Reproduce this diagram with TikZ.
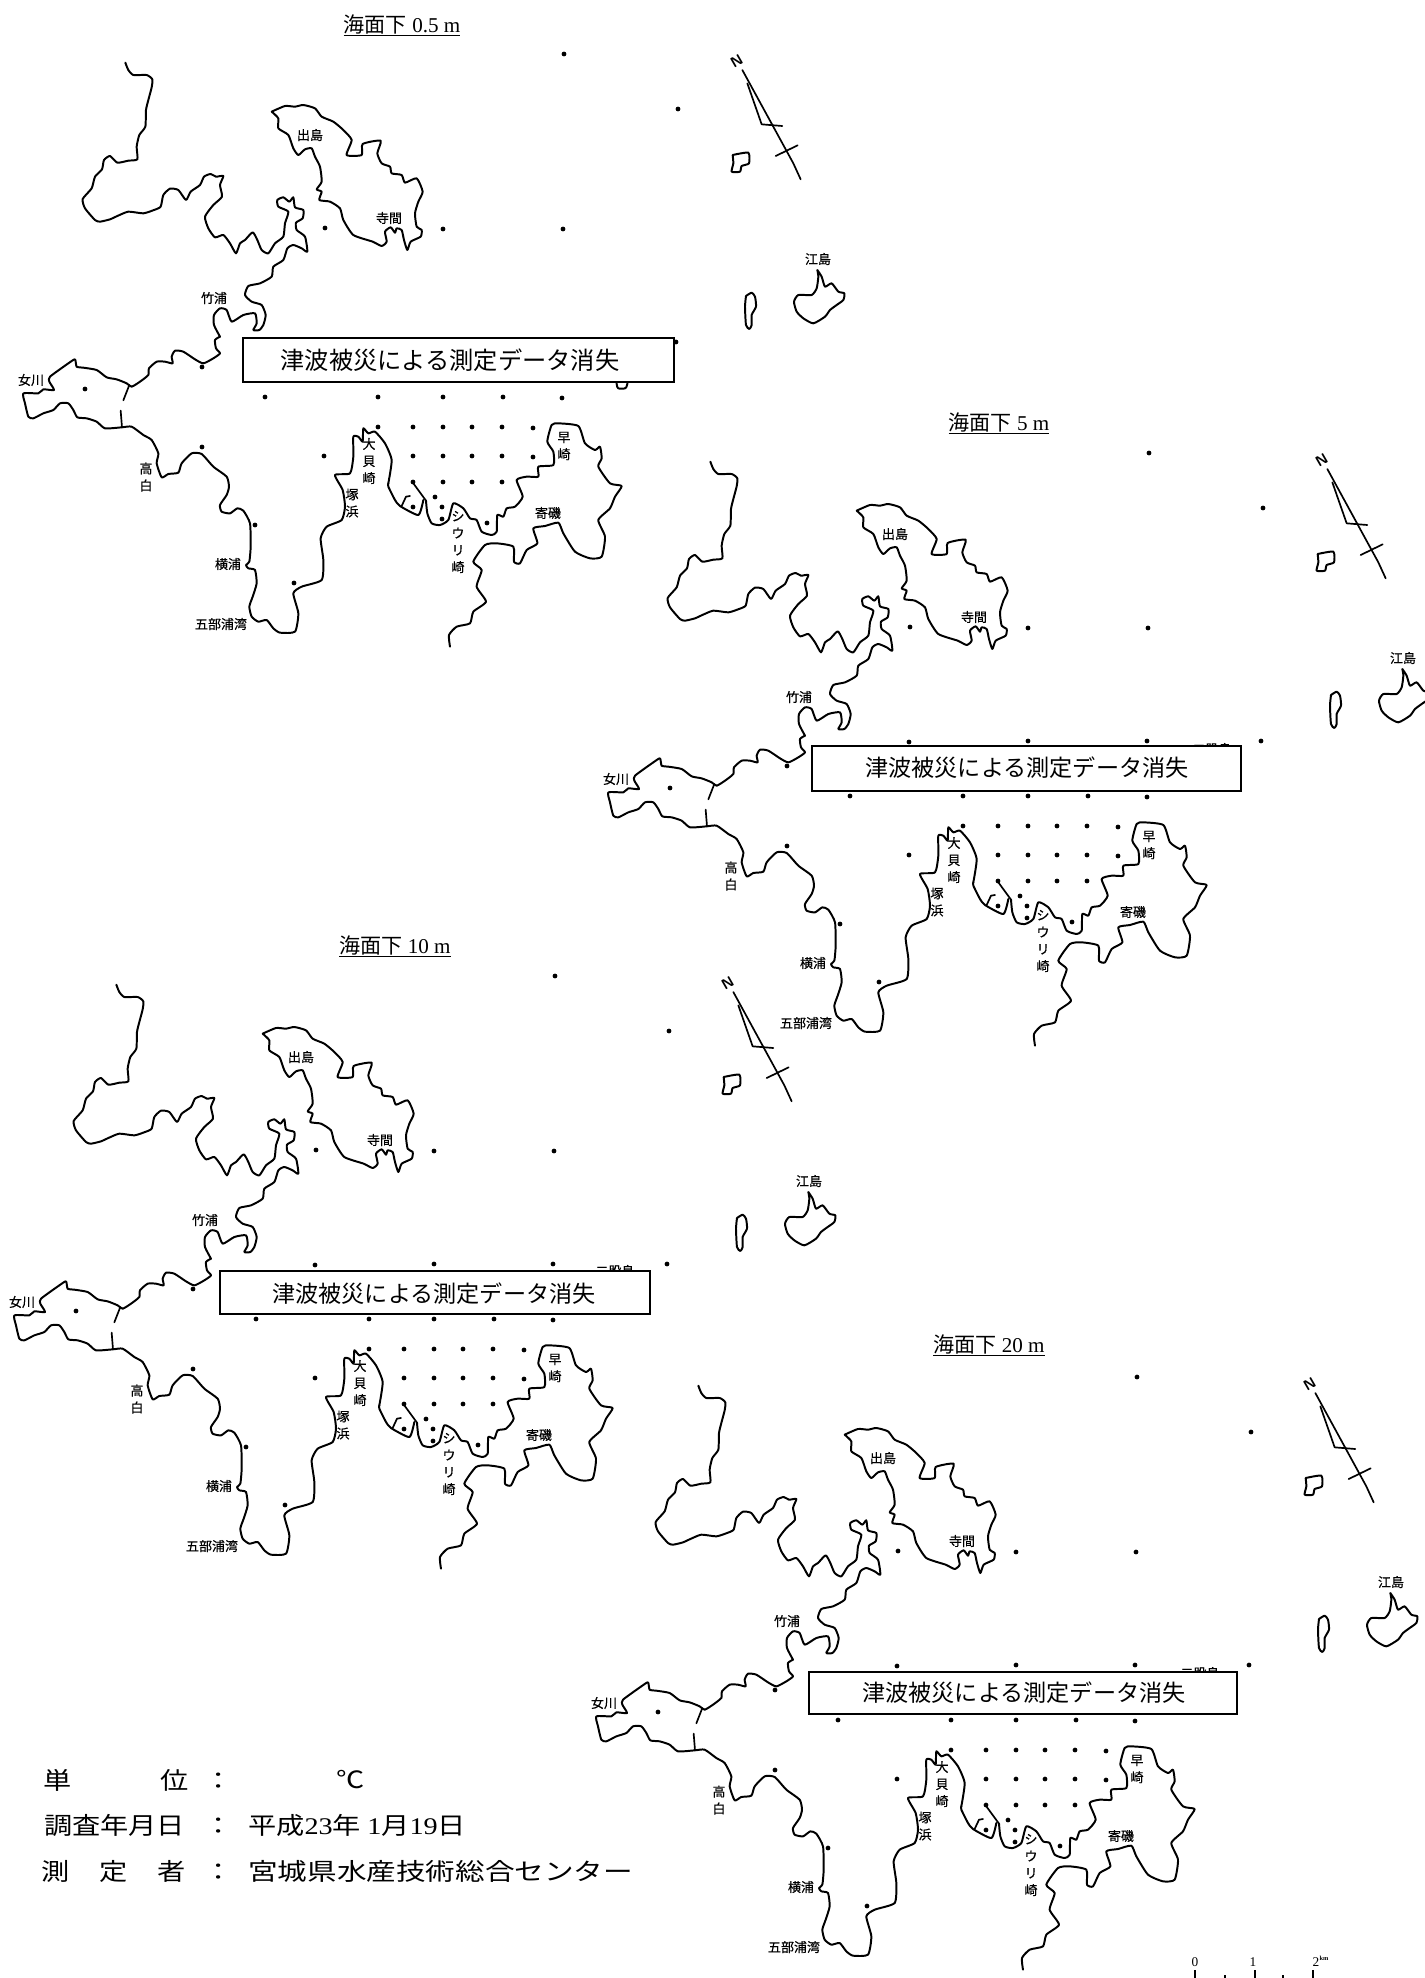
\documentclass[tikz,border=0pt]{standalone}
\usepackage{fontspec}
\setmainfont{Liberation Serif}
\newfontfamily\cjk{Noto Sans CJK JP}
\newfontfamily\cjkm[FakeBold=0.4]{Noto Sans CJK JP}
\newcommand{\fs}[1]{\fontsize{#1}{#1}\selectfont}
\tikzset{
  coast/.style={draw=black,line width=2.8pt,line join=round,line cap=round,smooth,tension=0.35},
  thinline/.style={draw=black,line width=2.4pt,line cap=round,line join=round},
  lab/.style={inner sep=0pt,font=\fs{18.5}\cjkm,align=center,text=black},
  vlab/.style={lab,font=\fontsize{18.5}{24.2}\selectfont\cjkm},
  banner/.style={draw=black,fill=white,line width=2.4pt},
  bannertext/.style={inner sep=0pt,font=\fs{32.9}\cjk},
  titletext/.style={inner sep=0pt,font=\fs{30}},
  foot/.style={inner sep=0pt,font=\fs{34}\cjk,anchor=center,xscale=1.18,transform shape},
  footw/.style={inner sep=0pt,font=\fs{34}\cjk,anchor=west,xscale=1.18,transform shape},
  zoomA/.style={scale=0.33333},
  zoomB/.style={shift={(440,0)},scale=0.33333},
  zoomC/.style={shift={(0,320)},scale=0.33333},
  zoomD/.style={shift={(300,380)},scale=0.33333}
}
\newcommand{\mapsheet}[3]{%
\begin{scope}[shift={(#2,#3)},name prefix=#1-]
  \begin{scope}[zoomA]
    \draw[coast] plot coordinates {(376,188)(385,210)(400,225)(440,225)(457,238)(455,262)(445,300)(438,330)(436,380)(418,405)(410,440)(412,478)(385,482)(352,488)(330,468)(312,480)(306,508)(285,530)(275,565)(248,597)(255,625)(285,660)(300,665)(330,658)(352,648)(385,635)(430,640)(462,630)(482,620)(490,585)(510,566)(535,570)(558,600)(572,575)(600,555)(612,530)(632,522)(648,530)(670,528)(660,555)(666,590)(640,615)(615,650)(625,685)(645,712)(670,705)(690,730)(708,760)(720,730)(735,720)(758,697)(772,720)(785,750)(805,760)(825,730)(850,710)(855,670)(865,635)(835,620)(832,600)(850,592)(868,605)(880,592)(885,622)(910,630)(908,655)(888,668)(890,690)(915,710)(922,755)(905,745)(880,735)(862,745)(850,780)(820,800)(815,830)(780,850)(745,858)(735,885)(755,905)(785,915)(797,945)(790,975)(778,990)(760,990)(770,970)(765,940)(730,945)(695,965)(680,930)(660,925)(642,945)(642,975)(660,1010)};
    \draw[coast] plot coordinates {(815,335)(855,318)(885,320)(910,315)(945,325)(965,350)(1000,365)(1030,390)(1055,420)(1040,465)(1085,465)(1088,432)(1142,422)(1132,460)(1145,490)(1170,500)(1175,520)(1205,525)(1215,548)(1250,535)(1268,575)(1255,605)(1245,640)(1250,680)(1265,690)(1262,710)(1232,725)(1222,750)(1212,720)(1205,690)(1190,685)(1185,698)(1172,682)(1155,695)(1160,725)(1145,738)(1118,725)(1060,705)(1030,660)(1020,625)(990,605)(958,600)(965,575)(950,568)(965,545)(960,500)(945,470)(935,445)(915,448)(895,465)(880,445)(865,405)(835,385)(835,355)(815,335)};
  \end{scope}
  \begin{scope}[zoomC]
    \draw[coast] plot coordinates {(660,50)(645,60)(648,85)(660,100)(640,115)(610,130)(585,118)(550,95)(525,92)(515,110)(518,130)(495,125)(470,125)(447,145)(445,165)(420,185)(395,200)(380,190)(350,178)(320,172)(290,150)(250,143)(230,140)(225,118)(205,130)(150,170)(148,185)(162,210)(130,208)(115,220)(70,220)(75,250)(85,290)(100,295)(130,280)(160,270)(180,250)(205,250)(220,270)(232,292)(260,295)(290,305)(315,325)(365,322)(395,320)(430,345)(455,360)(475,400)(470,430)(485,472)(505,462)(535,458)(545,430)(575,400)(605,402)(640,440)(680,470)(687,500)(680,525)(660,555)(665,575)(690,580)(712,565)(730,572)(750,610)(752,680)(748,725)(738,735)(745,745)(765,750)(770,790)(758,830)(748,860)(755,890)(775,905)(800,900)(820,925)(840,938)(885,935)(895,880)(880,820)(905,800)(965,780)(970,720)(962,655)(980,620)(1025,600)(1035,560)(1028,510)(1005,465)(1050,460)(1060,410)(1060,350)(1075,350)(1088,365)(1090,325)(1105,340)(1125,335)(1155,370)(1175,420)(1165,490)};
    \draw[thinline] (388,195) -- (370,241);
    \draw[thinline] (362,272) -- (366,322);
  \end{scope}
  \begin{scope}[zoomD]
    \draw[coast] plot coordinates {(265,310)(265,320)(285,360)(300,378)(355,405)(370,360)};
    \draw[coast] plot coordinates {(378,362)(382,400)(395,430)(420,435)(445,420)(460,370)(490,385)(510,415)(530,420)(545,455)(575,465)(590,455)(592,405)(610,410)(620,385)(645,380)(668,350)(650,300)(680,290)(715,290)(715,260)(760,255)(760,215)(742,185)(755,135)(775,130)(835,138)(855,190)(885,210)(900,200)(905,235)(895,260)(930,310)(965,318)(945,350)(930,385)(895,420)(915,470)(905,530)(870,535)(825,515)(790,460)(775,428)(735,438)(700,445)(712,490)(680,510)(660,550)(642,545)(640,500)(590,490)(555,495)(520,545)(545,570)(530,620)(558,665)(520,695)(510,730)(470,740)(447,765)(450,800)};
    \draw[thinline] (340,310) -- (378,362);
    \draw[thinline] (305,378) -- (318,350) -- (330,348);
    \draw[coast] plot coordinates {(945,-60)(950,12)(955,25)(975,25)(982,12)(985,-60)};
  \end{scope}
  \begin{scope}[zoomB]
    \draw[coast] plot coordinates {(878,465)(925,458)(927,490)(905,498)(900,515)(875,515)(880,490)(878,465)};
    \draw[coast] plot coordinates {(918,888)(935,878)(945,890)(948,920)(935,945)(935,975)(928,987)(918,975)(915,920)(918,888)};
    \draw[coast] plot coordinates {(1132,810)(1145,830)(1155,860)(1175,850)(1195,875)(1213,880)(1210,900)(1190,915)(1170,930)(1155,950)(1120,970)(1090,955)(1070,935)(1062,905)(1075,885)(1115,885)(1130,865)(1135,830)(1132,810)};
    \draw[thinline] (907,210) -- (1060,490) -- (1082,538);
    \draw[thinline] (922,250) -- (965,373) -- (1027,378);
    \draw[thinline] (1007,468) -- (1073,436);
    \node[inner sep=0pt,rotate=30,font=\fs{21}\bfseries\sffamily] (north) at (890,183) {N};
  \end{scope}
  \foreach \p in {(564,54),(678,109),(325,228),(443,229),(563,229),
    (324,343),(443,342),(562,342),(676,342),
    (202,367),(85,389),(265,397),(378,397),(443,397),(503,397),(562,398),
    (378,427),(413,427),(443,427),(472,427),(502,427),(533,428),
    (324,456),(413,456),(443,456),(472,456),(502,456),(533,457),
    (413,482),(443,482),(472,482),(502,482),
    (435,497),(442,507),(413,507),(442,519),(487,523),
    (202,447),(255,525),(294,583)}
    {\fill[black] \p circle[radius=3.4pt];}
  \node[lab] (deshima) at (310,135) {出島};
  \node[lab] (terama) at (389,218) {寺間};
  \node[lab] (takeura) at (214,298) {竹浦};
  \node[lab] (enoshima) at (818,259) {江島};
  \node[lab] (onagawa) at (31,380) {女川};
  \node[vlab] (takashiro) at (146,477) {高\\白};
  \node[lab] (yokoura) at (228,564) {横浦};
  \node[lab] (gobuura) at (221,624) {五部浦湾};
  \node[vlab] (tsukahama) at (352,503) {塚\\浜};
  \node[vlab] (ogai) at (369,461) {大\\貝\\崎};
  \node[vlab] (shiuri) at (458,542) {シ\\ウ\\リ\\崎};
  \node[vlab] (hayasaki) at (564,446) {早\\崎};
  \node[lab] (yoriiso) at (548,513) {寄磯};
\end{scope}}
\begin{document}
\begin{tikzpicture}[x=0.05cm,y=-0.05cm]
\useasboundingbox (0,0) rectangle (1424,1978);
\fill[white] (0,0) rectangle (1424,1978);
\mapsheet{a}{0}{0}
\mapsheet{b}{585}{399}
\mapsheet{c}{-9}{922}
\mapsheet{d}{573}{1323}
\node[lab] (fb) at (1212,749) {二股島};
\node[lab] (fc) at (615,1271) {二股島};
\node[lab] (fd) at (1200,1673) {二股島};
\node[titletext] (ta) at (402,25) {\underline{{\cjk 海面下} 0.5 m}};
\node[titletext] (tb) at (999,423) {\underline{{\cjk 海面下} 5 m}};
\node[titletext] (tc) at (395,946) {\underline{{\cjk 海面下} 10 m}};
\node[titletext] (td) at (989,1345) {\underline{{\cjk 海面下} 20 m}};
\draw[banner] (243,338) rectangle (674,382);
\node[bannertext,font=\fs{34.5}\cjk] (ba) at (450,360) {津波被災による測定データ消失};
\draw[banner] (812,746) rectangle (1241,791);
\node[bannertext] (bb) at (1027,768) {津波被災による測定データ消失};
\draw[banner] (220,1271) rectangle (650,1314);
\node[bannertext] (bc) at (434,1294) {津波被災による測定データ消失};
\draw[banner] (809,1672) rectangle (1237,1714);
\node[bannertext] (bd) at (1024,1693) {津波被災による測定データ消失};
\node[foot] (f1) at (58,1780) {単};
\node[foot] (f2) at (175,1780) {位};
\node[foot] (f3) at (219,1781) {：};
\node[foot] (f4) at (351,1780) {℃};
\node[footw] (f5) at (44,1825) {調査年月日};
\node[foot] (f6) at (219,1826) {：};
\node[footw] (f7) at (248,1825) {平成{\rmfamily 23}年 {\rmfamily 1}月{\rmfamily 19}日};
\node[foot] (f8) at (56,1871) {測};
\node[foot] (f9) at (114,1871) {定};
\node[foot] (f10) at (172,1871) {者};
\node[foot] (f11) at (219,1872) {：};
\node[footw,xscale=1.05] (f12) at (248,1871) {宮城県水産技術総合センター};
\node[inner sep=0pt,font=\fs{19}] (s0) at (1195,1962) {0};
\node[inner sep=0pt,font=\fs{19}] (s1) at (1253,1962) {1};
\node[inner sep=0pt,font=\fs{19}] (s2) at (1316,1962) {2};
\node[inner sep=0pt,font=\fs{9}\bfseries] (skm) at (1324,1958) {km};
\draw[thinline,line cap=butt] (1195,1970) -- (1195,1978);
\draw[thinline,line cap=butt] (1225,1975) -- (1225,1978);
\draw[thinline,line cap=butt] (1255,1970) -- (1255,1978);
\draw[thinline,line cap=butt] (1283,1975) -- (1283,1978);
\draw[thinline,line cap=butt] (1313,1970) -- (1313,1978);
\end{tikzpicture}
\end{document}
